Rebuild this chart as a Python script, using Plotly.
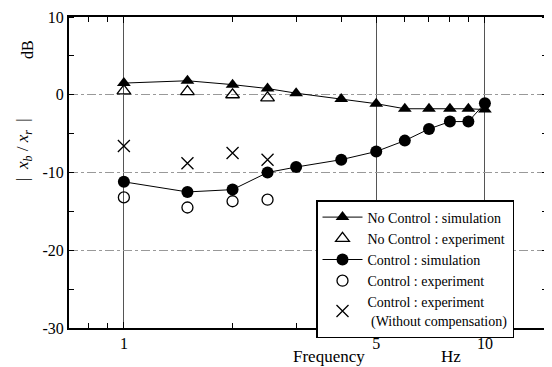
import plotly.graph_objects as go

freq = [1, 1.5, 2, 2.5, 3, 4, 5, 6, 7, 8, 9, 10]
nc_sim = [1.5, 1.8, 1.3, 0.8, 0.2, -0.55, -1.15, -1.8, -1.8, -1.8, -1.8, -1.9]
ctl_sim = [-11.2, -12.5, -12.2, -10.0, -9.3, -8.35, -7.3, -5.9, -4.4, -3.45, -3.45, -1.1]
exp_freq = [1, 1.5, 2, 2.5]
nc_exp = [0.5, 0.4, 0.0, -0.4]
ctl_exp = [-13.2, -14.5, -13.7, -13.5]
ctl_exp_nocomp = [-6.6, -8.8, -7.5, -8.35]

x_ticks = [1, 5, 10]
x_tick_labels = ["1", "5", "10"]
x_minor = [0.8, 0.9, 2, 3, 4, 6, 7, 8, 9]
y_ticks = [-30, -20, -10, 0, 10]
y_tick_labels = ["-30", "-20", "-10", "0", "10"]

FONT = "Liberation Serif"
# page body has an 8px margin, so the figure is sized to fit the remaining window
W, H = 544, 359
L, R, T, B = 61, 5, 9, 39
PW, PH = W - L - R, H - T - B


def px_x(px):  # window pixel x -> paper fraction
    return (px - 8 - L) / PW


def px_y(py):  # window pixel y -> paper fraction
    return (H - B - (py - 8)) / PH


fig = go.Figure()
fig.add_trace(go.Scatter(x=freq, y=nc_sim, mode="lines+markers", name="No Control : simulation",
                         line=dict(color="black", width=1),
                         marker=dict(symbol="triangle-up", size=12, color="black")))
fig.add_trace(go.Scatter(x=exp_freq, y=nc_exp, mode="markers", name="No Control : experiment",
                         marker=dict(symbol="triangle-up-open", size=12, color="black", line=dict(width=1.3))))
fig.add_trace(go.Scatter(x=freq, y=ctl_sim, mode="lines+markers", name="Control : simulation",
                         line=dict(color="black", width=1),
                         marker=dict(symbol="circle", size=12, color="black")))
fig.add_trace(go.Scatter(x=exp_freq, y=ctl_exp, mode="markers", name="Control : experiment",
                         marker=dict(symbol="circle-open", size=11, color="black", line=dict(width=1.3))))
fig.add_trace(go.Scatter(x=exp_freq, y=ctl_exp_nocomp, mode="markers",
                         name="Control : experiment<br> (Without compensation)",
                         marker=dict(symbol="x-thin-open", size=12, color="black", line=dict(width=1.3))))

fig.update_layout(
    width=W, height=H,
    margin=dict(l=L, r=R, t=T, b=B, autoexpand=False),
    paper_bgcolor="white", plot_bgcolor="white",
    font=dict(family=FONT, size=15, color="black"),
    showlegend=True,
    legend=dict(x=px_x(316), y=px_y(200), xanchor="left", yanchor="top",
                bgcolor="white", bordercolor="black", borderwidth=1.5,
                font=dict(family=FONT, size=14), tracegroupgap=0,
                itemwidth=40),
)
fig.update_xaxes(type="log", range=[-0.152, 1.172],
                 tickvals=x_ticks, ticktext=x_tick_labels,
                 ticks="inside", ticklen=6, tickcolor="black",
                 tickfont=dict(family=FONT, size=16), ticklabelstandoff=0,
                 showgrid=True, gridcolor="#555555", gridwidth=1,
                 showline=True, linecolor="black", linewidth=2, mirror="ticks",
                 minor=dict(tickvals=x_minor, ticks="inside", ticklen=5, tickcolor="black", showgrid=False),
                 zeroline=False)
fig.update_yaxes(range=[-30, 10], tickvals=y_ticks, ticktext=y_tick_labels, ticks="",
                 showgrid=True, gridcolor="#999999", gridwidth=1, griddash="dashdot",
                 showline=True, linecolor="black", linewidth=2, mirror="ticks",
                 minor=dict(dtick=5, tick0=0, ticks="inside", ticklen=5, tickcolor="black", showgrid=False),
                 tickfont=dict(family=FONT, size=16), zeroline=False)

for text, x in [("Frequency", 329), ("Hz", 451)]:
    fig.add_annotation(xref="paper", yref="paper", showarrow=False,
                       xanchor="center", yanchor="middle",
                       font=dict(family=FONT, size=17, color="black"),
                       text=text, x=px_x(x), y=px_y(356))
fig.add_annotation(xref="paper", yref="paper", showarrow=False, textangle=-90,
                   xanchor="center", yanchor="middle",
                   x=px_x(27), y=px_y(50),
                   text="dB", font=dict(family=FONT, size=16, color="black"))
fig.add_annotation(xref="paper", yref="paper", showarrow=False, textangle=-90,
                   xanchor="center", yanchor="middle",
                   x=px_x(24), y=px_y(150),
                   text="|  <i>x</i><sub><i>b</i></sub> / <i>x</i><sub><i>r</i></sub>  |",
                   font=dict(family=FONT, size=17, color="black"))

fig.write_html("out.html")
